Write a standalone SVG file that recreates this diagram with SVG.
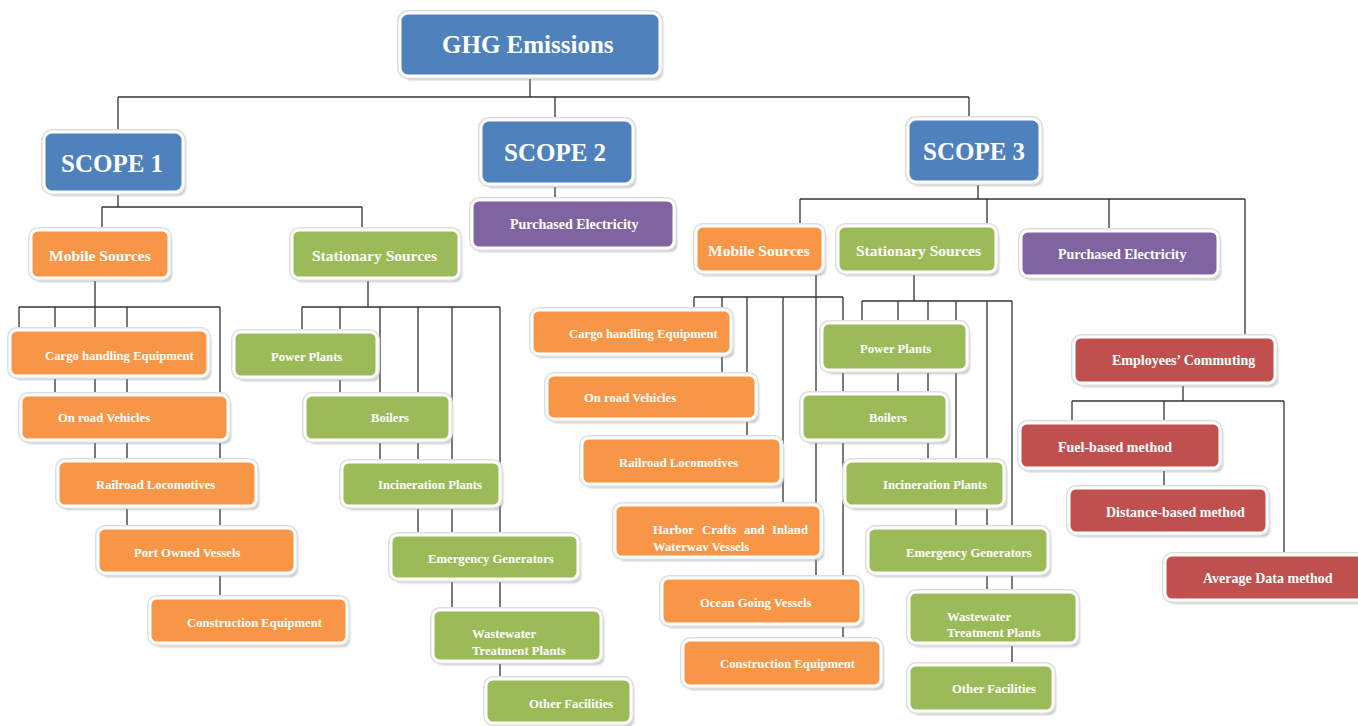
<svg xmlns="http://www.w3.org/2000/svg" width="1358" height="726" viewBox="0 0 1358 726">
<defs>
<filter id="blur" x="-10%" y="-20%" width="120%" height="140%"><feGaussianBlur stdDeviation="1.2"/></filter>
<style>
.sh{fill:#9a9a9a;opacity:.55;filter:url(#blur)}
.rim{fill:none;stroke:#dedede;stroke-width:6}
.b{stroke:#fff;stroke-width:3}
.blue{fill:#4F81BD}.org{fill:#F79646}.grn{fill:#9BBB59}.pur{fill:#8064A2}.red{fill:#C0504D}
text{font-family:"Liberation Serif","Times New Roman",serif;font-weight:bold;fill:#fff}
.t25{font-size:25px}.t15{font-size:15.5px}.t14{font-size:14px}.t12{font-size:12.7px}
.ln{stroke:#333;stroke-width:1.3;fill:none}
</style>
</defs>
<rect width="1358" height="726" fill="#fff"/>
<g id="connectors" class="ln">
<path d="M530 76V97M118 97H969M118 97V132M555 97V120M969 97V119"/>
<path d="M118 192V207M102 207H362M102 207V230M362 207V230"/>
<path d="M555 185V200"/>
<path d="M95 279V307M19 307H220M19 307V330M55 307V395M95 307V461M127 307V528M220 307V598"/>
<path d="M368 279V307M302 307H500M302 307V332M340 307V395M380 307V462M418 307V535M452 307V610M500 307V679"/>
<path d="M978 183V199M800 199H1245M800 199V226M987 199V226M1109 199V231M1245 199V337"/>
<path d="M816 274V578M694 297H843M694 297V310M722 297V375M747 297V438M783 297V505M843 297V640"/>
<path d="M914 274V301M862 301H1012M862 301V323M898 301V394M928 301V461M956 301V528M987 301V592M1012 301V665"/>
<path d="M1183 385V401M1072 401H1284M1072 401V423M1164 401V488M1284 401V555"/>
</g>
<g id="ghg"><rect class="sh" x="403" y="17" width="260" height="63" rx="8"/><rect class="rim" x="400" y="13" width="260" height="63" rx="8"/><rect class="b blue" x="400" y="13" width="260" height="63" rx="8"/><text class="t25" x="442" y="52.5">GHG Emissions</text></g>
<g id="scope1"><rect class="sh" x="47" y="136" width="139" height="60" rx="8"/><rect class="rim" x="44" y="132" width="139" height="60" rx="8"/><rect class="b blue" x="44" y="132" width="139" height="60" rx="8"/><text class="t25" x="61" y="171.5">SCOPE 1</text></g>
<g id="scope2"><rect class="sh" x="484" y="124" width="152" height="64" rx="8"/><rect class="rim" x="481" y="120" width="152" height="64" rx="8"/><rect class="b blue" x="481" y="120" width="152" height="64" rx="8"/><text class="t25" x="504" y="160.5">SCOPE 2</text></g>
<g id="scope3"><rect class="sh" x="911" y="123" width="132" height="63" rx="8"/><rect class="rim" x="908" y="119" width="132" height="63" rx="8"/><rect class="b blue" x="908" y="119" width="132" height="63" rx="8"/><text class="t25" x="923" y="160">SCOPE 3</text></g>

<g id="s1-mobile"><rect class="sh" x="34" y="234" width="138" height="48" rx="7"/><rect class="rim" x="31" y="230" width="138" height="48" rx="7"/><rect class="b org" x="31" y="230" width="138" height="48" rx="7"/><text class="t15" x="49" y="261">Mobile Sources</text></g>
<g id="s1-stationary"><rect class="sh" x="295" y="234" width="167" height="48" rx="7"/><rect class="rim" x="292" y="230" width="167" height="48" rx="7"/><rect class="b grn" x="292" y="230" width="167" height="48" rx="7"/><text class="t15" x="312" y="261">Stationary Sources</text></g>
<g id="s2-purchased"><rect class="sh" x="475" y="204" width="202" height="48" rx="7"/><rect class="rim" x="472" y="200" width="202" height="48" rx="7"/><rect class="b pur" x="472" y="200" width="202" height="48" rx="7"/><text class="t14" x="510" y="229">Purchased Electricity</text></g>

<g id="s1-cargo"><rect class="sh" x="13" y="334" width="198" height="46" rx="7"/><rect class="rim" x="10" y="330" width="198" height="46" rx="7"/><rect class="b org" x="10" y="330" width="198" height="46" rx="7"/><text class="t12" x="45" y="359.5">Cargo handling Equipment</text></g>
<g id="s1-onroad"><rect class="sh" x="24" y="399" width="207" height="45" rx="7"/><rect class="rim" x="21" y="395" width="207" height="45" rx="7"/><rect class="b org" x="21" y="395" width="207" height="45" rx="7"/><text class="t12" x="58" y="421.5">On road Vehicles</text></g>
<g id="s1-railroad"><rect class="sh" x="61" y="465" width="198" height="45" rx="7"/><rect class="rim" x="58" y="461" width="198" height="45" rx="7"/><rect class="b org" x="58" y="461" width="198" height="45" rx="7"/><text class="t12" x="96" y="488.5">Railroad Locomotives</text></g>
<g id="s1-port"><rect class="sh" x="101" y="532" width="197" height="45" rx="7"/><rect class="rim" x="98" y="528" width="197" height="45" rx="7"/><rect class="b org" x="98" y="528" width="197" height="45" rx="7"/><text class="t12" x="134" y="556.5">Port Owned Vessels</text></g>
<g id="s1-construction"><rect class="sh" x="153" y="602" width="197" height="45" rx="7"/><rect class="rim" x="150" y="598" width="197" height="45" rx="7"/><rect class="b org" x="150" y="598" width="197" height="45" rx="7"/><text class="t12" x="187" y="626.5">Construction Equipment</text></g>

<g id="s1-power"><rect class="sh" x="237" y="336" width="143" height="45" rx="7"/><rect class="rim" x="234" y="332" width="143" height="45" rx="7"/><rect class="b grn" x="234" y="332" width="143" height="45" rx="7"/><text class="t12" x="271" y="360.5">Power Plants</text></g>
<g id="s1-boilers"><rect class="sh" x="308" y="399" width="145" height="45" rx="7"/><rect class="rim" x="305" y="395" width="145" height="45" rx="7"/><rect class="b grn" x="305" y="395" width="145" height="45" rx="7"/><text class="t12" x="371" y="421.5">Boilers</text></g>
<g id="s1-incineration"><rect class="sh" x="345" y="466" width="158" height="44" rx="7"/><rect class="rim" x="342" y="462" width="158" height="44" rx="7"/><rect class="b grn" x="342" y="462" width="158" height="44" rx="7"/><text class="t12" x="378" y="488.5">Incineration Plants</text></g>
<g id="s1-emergency"><rect class="sh" x="394" y="539" width="187" height="44" rx="7"/><rect class="rim" x="391" y="535" width="187" height="44" rx="7"/><rect class="b grn" x="391" y="535" width="187" height="44" rx="7"/><text class="t12" x="428" y="562.5">Emergency Generators</text></g>
<g id="s1-wastewater"><rect class="sh" x="436" y="614" width="168" height="51" rx="7"/><rect class="rim" x="433" y="610" width="168" height="51" rx="7"/><rect class="b grn" x="433" y="610" width="168" height="51" rx="7"/><text class="t12" x="472" y="637.5">Wastewater</text><text class="t12" x="472" y="654.5">Treatment Plants</text></g>
<g id="s1-other"><rect class="sh" x="489" y="683" width="145" height="44" rx="7"/><rect class="rim" x="486" y="679" width="145" height="44" rx="7"/><rect class="b grn" x="486" y="679" width="145" height="44" rx="7"/><text class="t12" x="529" y="707.5">Other Facilities</text></g>

<g id="s3-mobile"><rect class="sh" x="699" y="230" width="127" height="46" rx="7"/><rect class="rim" x="696" y="226" width="127" height="46" rx="7"/><rect class="b org" x="696" y="226" width="127" height="46" rx="7"/><text class="t15" x="708" y="256">Mobile Sources</text></g>
<g id="s3-stationary"><rect class="sh" x="841" y="230" width="158" height="46" rx="7"/><rect class="rim" x="838" y="226" width="158" height="46" rx="7"/><rect class="b grn" x="838" y="226" width="158" height="46" rx="7"/><text class="t15" x="856" y="256">Stationary Sources</text></g>
<g id="s3-purchased"><rect class="sh" x="1024" y="235" width="197" height="45" rx="7"/><rect class="rim" x="1021" y="231" width="197" height="45" rx="7"/><rect class="b pur" x="1021" y="231" width="197" height="45" rx="7"/><text class="t14" x="1058" y="259">Purchased Electricity</text></g>

<g id="s3-cargo"><rect class="sh" x="535" y="314" width="199" height="44" rx="7"/><rect class="rim" x="532" y="310" width="199" height="44" rx="7"/><rect class="b org" x="532" y="310" width="199" height="44" rx="7"/><text class="t12" x="569" y="337.5">Cargo handling Equipment</text></g>
<g id="s3-onroad"><rect class="sh" x="550" y="379" width="209" height="44" rx="7"/><rect class="rim" x="547" y="375" width="209" height="44" rx="7"/><rect class="b org" x="547" y="375" width="209" height="44" rx="7"/><text class="t12" x="584" y="401.5">On road Vehicles</text></g>
<g id="s3-railroad"><rect class="sh" x="585" y="442" width="199" height="46" rx="7"/><rect class="rim" x="582" y="438" width="199" height="46" rx="7"/><rect class="b org" x="582" y="438" width="199" height="46" rx="7"/><text class="t12" x="619" y="466.5">Railroad Locomotives</text></g>
<g id="s3-harbor"><rect class="sh" x="618" y="509" width="206" height="52" rx="7"/><rect class="rim" x="615" y="505" width="206" height="52" rx="7"/><rect class="b org" x="615" y="505" width="206" height="52" rx="7"/><text class="t12" y="533.5"><tspan x="653">Harbor</tspan><tspan x="702">Crafts</tspan><tspan x="744">and</tspan><tspan x="772">Inland</tspan></text><text class="t12" x="653" y="550.5">Waterwav Vessels</text></g>
<g id="s3-ocean"><rect class="sh" x="665" y="582" width="199" height="46" rx="7"/><rect class="rim" x="662" y="578" width="199" height="46" rx="7"/><rect class="b org" x="662" y="578" width="199" height="46" rx="7"/><text class="t12" x="700" y="606.5">Ocean Going Vessels</text></g>
<g id="s3-construction"><rect class="sh" x="686" y="644" width="198" height="46" rx="7"/><rect class="rim" x="683" y="640" width="198" height="46" rx="7"/><rect class="b org" x="683" y="640" width="198" height="46" rx="7"/><text class="t12" x="720" y="667.5">Construction Equipment</text></g>

<g id="s3-power"><rect class="sh" x="825" y="327" width="145" height="47" rx="7"/><rect class="rim" x="822" y="323" width="145" height="47" rx="7"/><rect class="b grn" x="822" y="323" width="145" height="47" rx="7"/><text class="t12" x="860" y="352.5">Power Plants</text></g>
<g id="s3-boilers"><rect class="sh" x="805" y="398" width="145" height="46" rx="7"/><rect class="rim" x="802" y="394" width="145" height="46" rx="7"/><rect class="b grn" x="802" y="394" width="145" height="46" rx="7"/><text class="t12" x="869" y="421.5">Boilers</text></g>
<g id="s3-incineration"><rect class="sh" x="848" y="465" width="159" height="45" rx="7"/><rect class="rim" x="845" y="461" width="159" height="45" rx="7"/><rect class="b grn" x="845" y="461" width="159" height="45" rx="7"/><text class="t12" x="883" y="488.5">Incineration Plants</text></g>
<g id="s3-emergency"><rect class="sh" x="871" y="532" width="180" height="45" rx="7"/><rect class="rim" x="868" y="528" width="180" height="45" rx="7"/><rect class="b grn" x="868" y="528" width="180" height="45" rx="7"/><text class="t12" x="906" y="556.5">Emergency Generators</text></g>
<g id="s3-wastewater"><rect class="sh" x="912" y="596" width="168" height="51" rx="7"/><rect class="rim" x="909" y="592" width="168" height="51" rx="7"/><rect class="b grn" x="909" y="592" width="168" height="51" rx="7"/><text class="t12" x="947" y="620.5">Wastewater</text><text class="t12" x="947" y="636.5">Treatment Plants</text></g>
<g id="s3-other"><rect class="sh" x="912" y="669" width="144" height="46" rx="7"/><rect class="rim" x="909" y="665" width="144" height="46" rx="7"/><rect class="b grn" x="909" y="665" width="144" height="46" rx="7"/><text class="t12" x="952" y="692.5">Other Facilities</text></g>

<g id="s3-commuting"><rect class="sh" x="1077" y="341" width="201" height="46" rx="7"/><rect class="rim" x="1074" y="337" width="201" height="46" rx="7"/><rect class="b red" x="1074" y="337" width="201" height="46" rx="7"/><text class="t14" x="1112" y="365">Employees’ Commuting</text></g>
<g id="s3-fuel"><rect class="sh" x="1023" y="427" width="200" height="45" rx="7"/><rect class="rim" x="1020" y="423" width="200" height="45" rx="7"/><rect class="b red" x="1020" y="423" width="200" height="45" rx="7"/><text class="t14" x="1058" y="452">Fuel-based method</text></g>
<g id="s3-distance"><rect class="sh" x="1072" y="492" width="198" height="45" rx="7"/><rect class="rim" x="1069" y="488" width="198" height="45" rx="7"/><rect class="b red" x="1069" y="488" width="198" height="45" rx="7"/><text class="t14" x="1106" y="517">Distance-based method</text></g>
<g id="s3-average"><rect class="sh" x="1168" y="559" width="205" height="45" rx="7"/><rect class="rim" x="1165" y="555" width="205" height="45" rx="7"/><rect class="b red" x="1165" y="555" width="205" height="45" rx="7"/><text class="t14" x="1203" y="583">Average Data method</text></g>
</svg>
